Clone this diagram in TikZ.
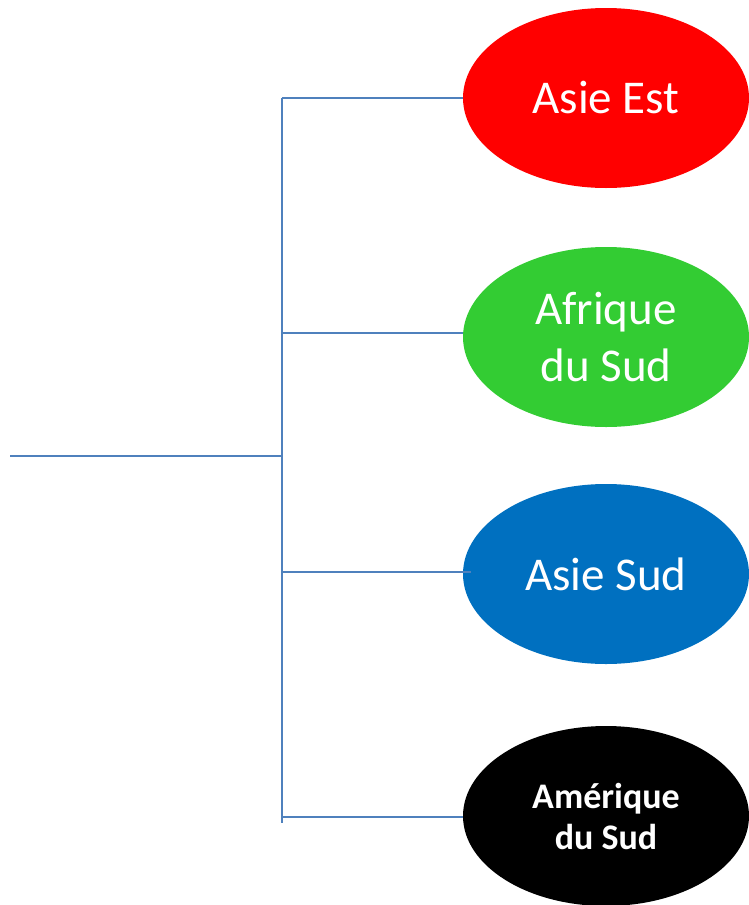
\documentclass[tikz,border=0pt]{standalone}
\usepackage{fontspec}
\setmainfont{Carlito}
\usetikzlibrary{shapes.geometric}
\definecolor{linecol}{HTML}{4F81BD}
\definecolor{redc}{HTML}{FF0000}
\definecolor{greenc}{HTML}{33CC33}
\definecolor{bluec}{HTML}{0070C0}
\tikzset{
  region/.style={ellipse, minimum width=286pt, minimum height=180pt, inner sep=0pt, text=white, align=center, font=\fontsize{47}{57}\selectfont},
  conn/.style={draw=linecol, line width=2pt}
}
\begin{document}
\begin{tikzpicture}[x=1pt,y=-1pt]
\useasboundingbox (0,0) rectangle (749,905);
\node[region, fill=redc] (e1) at (606,98) {Asie Est};
\node[region, fill=greenc] (e2) at (606,337) {Afrique\\du Sud};
\node[region, fill=bluec] (e3) at (606,574) {Asie Sud};
\node[region, fill=black, font=\bfseries\fontsize{36}{41}\selectfont] (e4) at (606,816) {Amérique\\du Sud};
\coordinate (root) at (10,456);
\coordinate (j) at (282,456);
\coordinate (vtop) at (282,98);
\coordinate (vbot) at (282,823);
\coordinate (b1) at (282,98);
\coordinate (b2) at (282,333);
\coordinate (b3) at (282,572);
\coordinate (b4) at (282,817);
\draw[conn] (root) -- (j);
\draw[conn] (vtop) -- (vbot);
\draw[conn] (b1) -- (e1.west |- b1);
\draw[conn] (b2) -- (e2.west |- b2);
\draw[conn] (b3) -- ([xshift=8pt]e3.west |- b3);
\draw[conn] (b4) -- (e4.west |- b4);
\end{tikzpicture}
\end{document}
